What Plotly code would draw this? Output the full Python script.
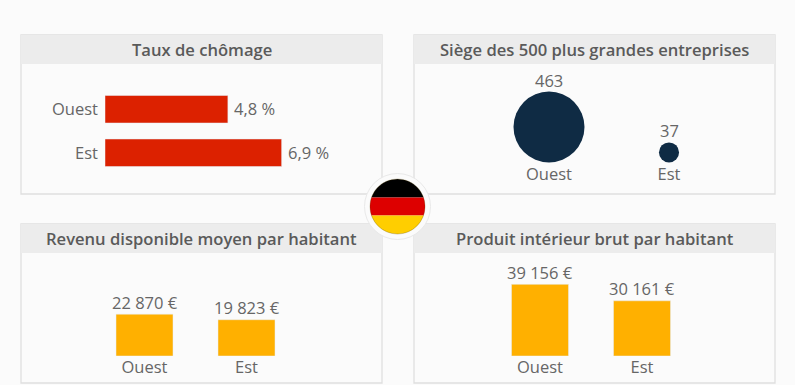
import numpy as np
import plotly.graph_objects as go

W, H = 795, 385
categories = ["Ouest", "Est"]
unemployment = [4.8, 6.9]
unemployment_labels = ["4,8 %", "6,9 %"]
headquarters = [463, 37]
income = [22870, 19823]
income_labels = ["22 870 €", "19 823 €"]
gdp = [39156, 30161]
gdp_labels = ["39 156 €", "30 161 €"]
titles = ["Taux de chômage", "Siège des 500 plus grandes entreprises",
          "Revenu disponible moyen par habitant", "Produit intérieur brut par habitant"]

FONT = "Open Sans"
TXT = "#666666"
RED, NAVY, AMBER = "#dc2100", "#0f2b44", "#ffb000"
BG, HEAD, EDGE = "#fbfbfb", "#ececec", "#dfdfdf"
text_font = dict(family=FONT, size=16.5, color=TXT)


def px_x(a, b):
    return [a / W, b / W]


def px_y(top, bottom):
    return [1 - bottom / H, 1 - top / H]


def hidden_val(**kw):
    return dict(visible=False, fixedrange=True, **kw)


def cat_axis(**kw):
    return dict(type="category", categoryorder="array", categoryarray=categories,
                showgrid=False, zeroline=False, showline=False, ticks="",
                tickfont=text_font, **kw)


fig = go.Figure()

# Unemployment: horizontal bars
fig.add_trace(go.Bar(y=categories, x=unemployment, orientation="h", marker_color=RED, width=27.5 / 43.5,
                     xaxis="x", yaxis="y"))
# Headquarters: bubbles resting on a common baseline
DIAM_SCALE = 71 / np.sqrt(463)
bubble_centre = [float(np.sqrt(v) * DIAM_SCALE / 2) for v in headquarters]
fig.add_trace(go.Scatter(x=categories, y=bubble_centre, mode="markers", cliponaxis=False,
                         marker=dict(color=NAVY, opacity=1, size=headquarters, sizemode="area",
                                     sizeref=2 / DIAM_SCALE ** 2, line_width=0),
                         xaxis="x2", yaxis="y2"))
# Income and GDP: vertical bars on the same scale
fig.add_trace(go.Bar(x=categories, y=income, marker_color=AMBER, width=57 / 102, xaxis="x3", yaxis="y3"))
fig.add_trace(go.Bar(x=categories, y=gdp, marker_color=AMBER, width=57 / 102, xaxis="x4", yaxis="y4"))

shapes, annotations = [], []
panels = [(21, 382, 35, 194), (414, 775, 35, 194), (21, 382, 224, 383), (414, 775, 224, 383)]
for (x0, x1, y0, y1), title in zip(panels, titles):
    shapes.append(dict(type="rect", xref="paper", yref="paper", x0=x0 / W, x1=x1 / W, y0=1 - y1 / H, y1=1 - y0 / H,
                       fillcolor=BG, line=dict(color=EDGE, width=1.3), layer="below"))
    shapes.append(dict(type="rect", xref="paper", yref="paper", x0=x0 / W, x1=x1 / W, y0=1 - (y0 + 29) / H, y1=1 - y0 / H,
                       fillcolor=HEAD, line=dict(color=HEAD, width=0), layer="below"))
    annotations.append(dict(text=title, xref="paper", yref="paper", x=(x0 + x1) / 2 / W, y=1 - (y0 + 14.5) / H,
                            xanchor="center", yanchor="middle", showarrow=False,
                            font=dict(family=FONT, size=16.6, color="#5a5a5a", weight=600)))
for cat, val, lab in zip(categories, unemployment, unemployment_labels):
    annotations.append(dict(text=lab, xref="x", yref="y", x=val, y=cat, xanchor="left", yanchor="middle",
                            xshift=4.5, yshift=0.5, showarrow=False, font=text_font))
for cat, val, c in zip(categories, headquarters, bubble_centre):
    annotations.append(dict(text=str(val), xref="x2", yref="y2", x=cat, y=2 * c, xanchor="center", yanchor="bottom",
                            yshift=-2, showarrow=False, font=text_font))
for xref, yref, vals, labs in (("x3", "y3", income, income_labels), ("x4", "y4", gdp, gdp_labels)):
    for cat, val, lab in zip(categories, vals, labs):
        annotations.append(dict(text=lab, xref=xref, yref=yref, x=cat, y=val, xanchor="center", yanchor="bottom",
                                yshift=-1.5, showarrow=False, font=text_font))

# Flag badge
cx, cy, r = 397.5, 206.5, 27.5


def circ(rad, **kw):
    return dict(type="circle", xref="paper", yref="paper", x0=(cx - rad) / W, x1=(cx + rad) / W,
                y0=1 - (cy + rad) / H, y1=1 - (cy - rad) / H, **kw)


def band(top, bottom, color):
    t = np.clip(top - cy, -r, r)
    b = np.clip(bottom - cy, -r, r)
    ys = np.linspace(t, b, 30)
    xs = np.sqrt(np.maximum(r ** 2 - ys ** 2, 0))
    pts = [(cx + x, cy + y) for x, y in zip(xs, ys)] + [(cx - x, cy + y) for x, y in zip(xs[::-1], ys[::-1])]
    path = "M" + "L".join(f"{p[0] / W:.5f},{1 - p[1] / H:.5f}" for p in pts) + "Z"
    return dict(type="path", xref="paper", yref="paper", path=path, fillcolor=color, line_width=0)


shapes.append(circ(33, fillcolor=BG, line=dict(color="#e9e9e9", width=1)))
shapes += [band(179, 197.5, "#000000"), band(197.5, 215.5, "#dd0000"), band(215.5, 234, "#ffce00")]
shapes.append(circ(27.5, fillcolor="rgba(0,0,0,0)", line=dict(color="rgba(90,70,0,0.35)", width=0.8)))

PX_PER_UNIT_H = 25.6
PX_PER_EURO = 0.00183
PLOT3_H = 356 - 253
layout = dict(
    width=W, height=H, margin=dict(l=0, r=0, t=0, b=0), autosize=False,
    paper_bgcolor=BG, plot_bgcolor="rgba(0,0,0,0)", showlegend=False, barmode="group",
    shapes=shapes, annotations=annotations, font=dict(family=FONT, color=TXT),
    xaxis=hidden_val(domain=px_x(105, 382), range=[0, (382 - 105) / PX_PER_UNIT_H], anchor="y"),
    yaxis=cat_axis(domain=px_y(87.5, 174.5), range=[1.5, -0.5], ticklabelstandoff=6, anchor="x"),
    xaxis2=cat_axis(domain=px_x(489, 729), range=[-0.5, 1.5], ticklabelstandoff=0, anchor="y2"),
    yaxis2=hidden_val(domain=px_y(64, 162.5), range=[0, 162.5 - 64], anchor="x2"),
    xaxis3=cat_axis(domain=px_x(93.5, 297.5), range=[-0.5, 1.5], ticklabelstandoff=-1, anchor="y3"),
    yaxis3=hidden_val(domain=px_y(253, 356), range=[0, PLOT3_H / PX_PER_EURO], anchor="x3"),
    xaxis4=cat_axis(domain=px_x(489, 693), range=[-0.5, 1.5], ticklabelstandoff=-1, anchor="y4"),
    yaxis4=hidden_val(domain=px_y(253, 356), range=[0, PLOT3_H / PX_PER_EURO], anchor="x4"),
)
fig.update_layout(**layout)
fig.write_html("out.html", config=dict(displayModeBar=False),
               post_script="document.body.style.margin='0';document.documentElement.style.overflow='hidden';")
